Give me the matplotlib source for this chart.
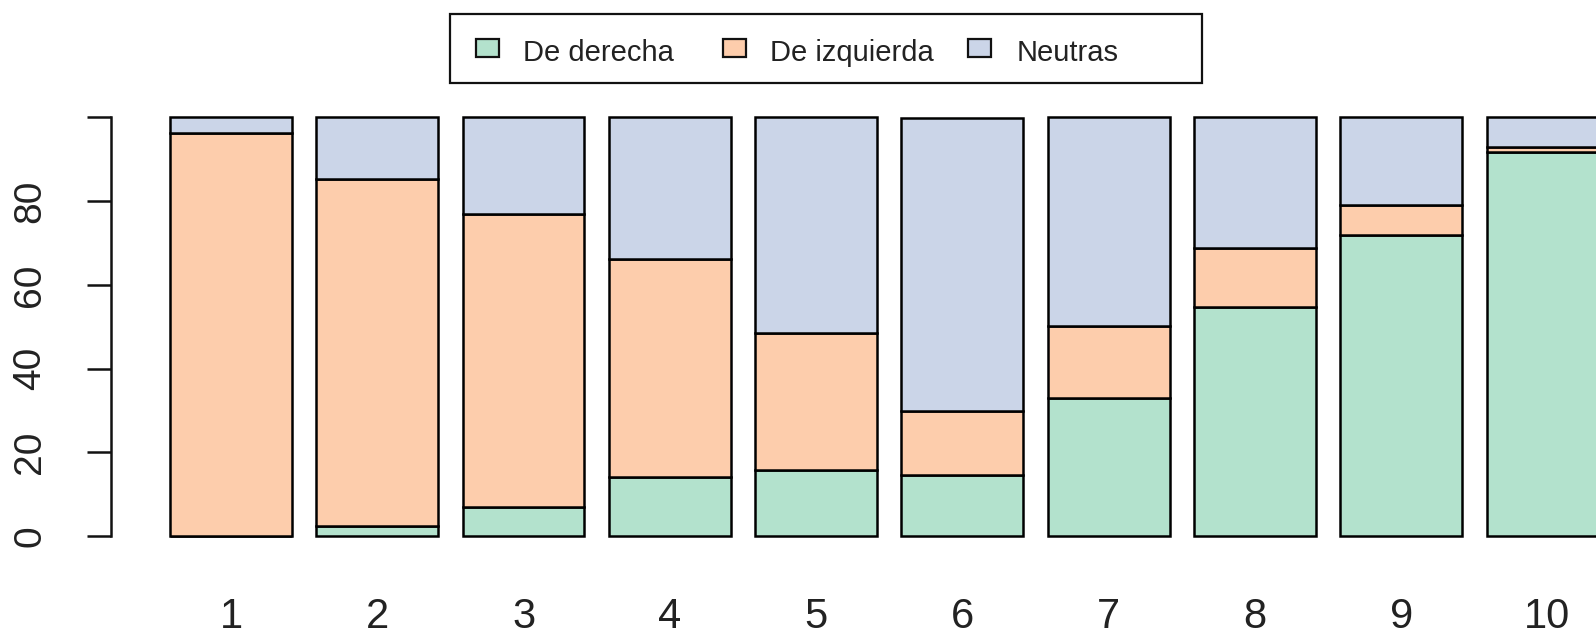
import matplotlib
matplotlib.use("Agg")
import matplotlib.pyplot as plt
from matplotlib.patches import Rectangle
import numpy as np

plt.rcParams['font.family'] = ['Liberation Sans', 'DejaVu Sans']

# ---- data ----
grupos = ['1', '2', '3', '4', '5', '6', '7', '8', '9', '10']
de_derecha = [0.0, 2.5, 6.9, 14.0, 15.8, 14.5, 32.9, 54.6, 72.0, 91.8]
de_izquierda = [96.3, 82.9, 70.0, 52.2, 32.6, 15.4, 17.3, 14.2, 7.0, 1.1]
neutras = [100 - a - b for a, b in zip(de_derecha, de_izquierda)]
series_labels = ['De derecha', 'De izquierda', 'Neutras']
colores = ['#B3E2CD', '#FDCDAC', '#CBD5E8']
yticks = [0, 20, 40, 60, 80, 100]
ytick_labels = ['0', '20', '40', '60', '80', '']

W_PX, H_PX = 1596, 637
fig = plt.figure(figsize=(W_PX / 100, H_PX / 100), dpi=100)
fig.patch.set_facecolor('white')

# axes placement (pixels from top-left)
ax_left, ax_y0, ax_y100 = 111, 536, 117.5
ax = fig.add_axes([ax_left / W_PX, (H_PX - ax_y0) / H_PX,
                   1 - ax_left / W_PX, (ax_y0 - ax_y100) / H_PX])

# R barplot geometry: width 1, space 0.2
x_left = 0.2 + 1.2 * np.arange(len(grupos))
centers = x_left + 0.5

lw = 1.8
bottom = np.zeros(len(grupos))
for vals, col, lab in zip([de_derecha, de_izquierda, neutras], colores, series_labels):
    ax.bar(x_left, vals, width=1.0, bottom=bottom, align='edge', color=col,
           edgecolor='black', linewidth=lw, label=lab, clip_on=False)
    bottom = bottom + np.array(vals)

ax.set_xlim(-0.284, 11.898)
ax.set_ylim(0, 100)

for s in ['top', 'right', 'bottom']:
    ax.spines[s].set_visible(False)
ax.spines['left'].set_linewidth(lw)
ax.spines['left'].set_color('#111111')

ax.set_yticks(yticks)
ax.set_yticklabels(ytick_labels)
ax.tick_params(axis='y', length=17.3, width=lw, color='#111111', pad=41,
               labelsize=28, labelcolor='#222222')
for t in ax.get_yticklabels():
    t.set_rotation(90)
    t.set_ha('center')
    t.set_va('center')

ax.set_xticks(centers)
ax.set_xticklabels(grupos)
ax.tick_params(axis='x', length=0, pad=44, labelsize=30, labelcolor='#222222')

# ---- legend box (R style, horizontal) ----
def px_rect(x0, y0, x1, y1, **kw):
    return Rectangle((x0 / W_PX, 1 - y1 / H_PX), (x1 - x0) / W_PX, (y1 - y0) / H_PX,
                     transform=fig.transFigure, **kw)

fig.add_artist(px_rect(449.5, 13.5, 1201.5, 83, facecolor='white',
                       edgecolor='#111111', linewidth=1.6))
sq_x = [476, 723, 968]
tx_x = [523, 770, 1017]
for sx, tx, col, lab in zip(sq_x, tx_x, colores, series_labels):
    fig.add_artist(px_rect(sx, 38.5, sx + 23, 56.5, facecolor=col,
                           edgecolor='#111111', linewidth=1.6))
    fig.text(tx / W_PX, 1 - 53 / H_PX, lab, fontsize=21, color='#222222',
             ha='left', va='center')

fig.savefig('out.png', dpi=100, facecolor='white')
